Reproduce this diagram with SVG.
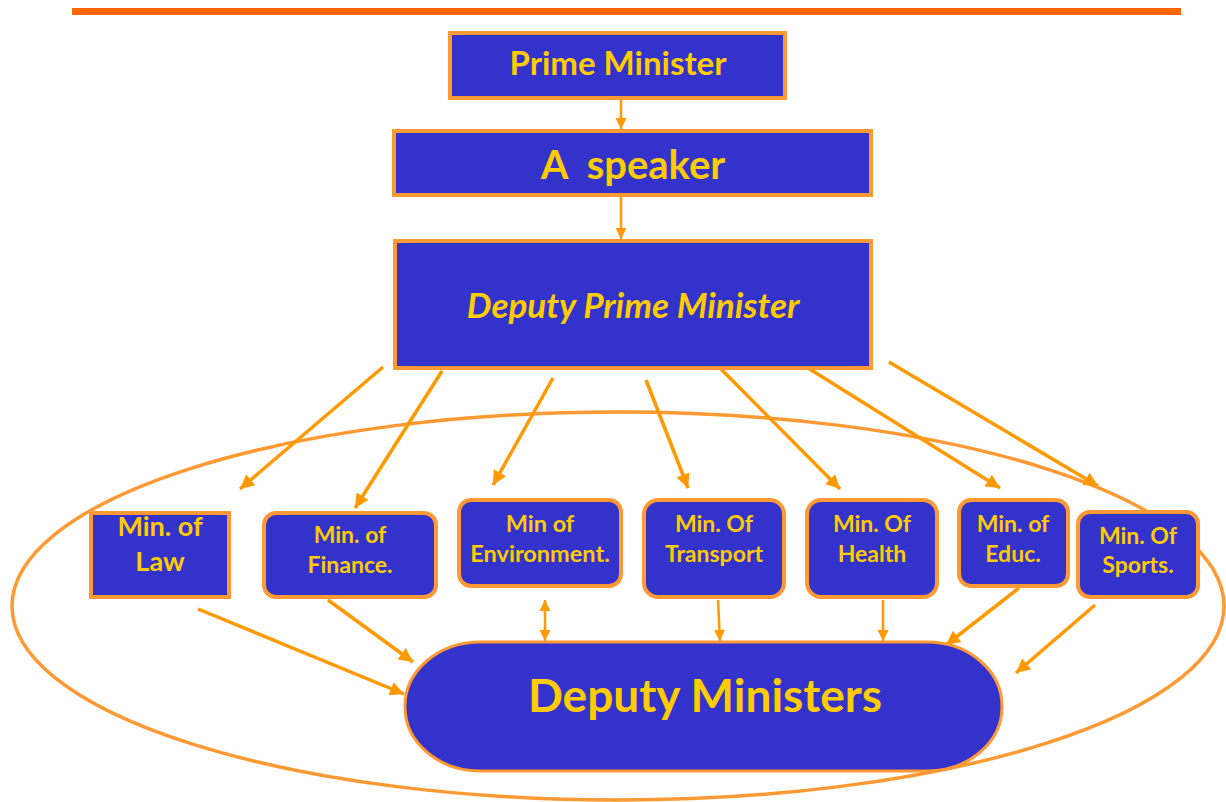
<svg xmlns="http://www.w3.org/2000/svg" width="1226" height="802" viewBox="0 0 1226 802">
<style>
.box{fill:#3333CC;stroke:#FF9933;stroke-width:4}
.t{font-family:Lato,"Liberation Sans",sans-serif;font-weight:bold;fill:#FFCC00;text-anchor:middle}
.c{stroke:#FF9900;stroke-width:3.5;fill:none}
.v{stroke:#FF9900;stroke-width:2.5;fill:none}
</style>
<defs>
<marker id="ah" viewBox="0 0 10 10" refX="10" refY="5" markerWidth="17" markerHeight="14" markerUnits="userSpaceOnUse" orient="auto-start-reverse">
<path d="M0,0 L10,5 L0,10 z" fill="#FF9900"/>
</marker>
<marker id="ahs" viewBox="0 0 10 10" refX="10" refY="5" markerWidth="14" markerHeight="11" markerUnits="userSpaceOnUse" orient="auto-start-reverse">
<path d="M0,0 L10,5 L0,10 z" fill="#FF9900"/>
</marker>
</defs>
<rect width="1226" height="802" fill="#FFFFFF"/>
<line x1="72" y1="11.5" x2="1181" y2="11.5" stroke="#FF6600" stroke-width="7"/>
<ellipse id="boundary" cx="618" cy="606" rx="606" ry="194" fill="none" stroke="#FF9933" stroke-width="3.5"/>
<g id="connectors">
<line class="v" x1="621" y1="100" x2="621" y2="129" marker-end="url(#ahs)"/>
<line class="v" x1="621" y1="197" x2="621" y2="239" marker-end="url(#ahs)"/>
<line class="c" x1="383" y1="367" x2="240" y2="489" marker-end="url(#ah)"/>
<line class="c" x1="442" y1="371" x2="355" y2="508" marker-end="url(#ah)"/>
<line class="c" x1="553" y1="378" x2="493" y2="485" marker-end="url(#ah)"/>
<line class="c" x1="646" y1="380" x2="688" y2="488" marker-end="url(#ah)"/>
<line class="c" x1="718" y1="366" x2="840" y2="489" marker-end="url(#ah)"/>
<line class="c" x1="808" y1="368" x2="1000" y2="488" marker-end="url(#ah)"/>
<line class="c" x1="889" y1="362" x2="1098" y2="486" marker-end="url(#ah)"/>
<line class="c" x1="198" y1="609" x2="404" y2="694" marker-end="url(#ah)"/>
<line class="c" x1="328" y1="600" x2="413" y2="662" marker-end="url(#ah)"/>
<line class="v" x1="545" y1="600" x2="545" y2="641" marker-start="url(#ahs)" marker-end="url(#ahs)"/>
<line class="v" x1="718" y1="600" x2="720" y2="641" marker-end="url(#ahs)"/>
<line class="v" x1="883" y1="600" x2="883" y2="641" marker-end="url(#ahs)"/>
<line class="c" x1="1019" y1="588" x2="946" y2="645" marker-end="url(#ah)"/>
<line class="c" x1="1095" y1="605" x2="1016" y2="673" marker-end="url(#ah)"/>
</g>
<g id="prime-minister">
<rect class="box" x="450" y="33" width="335" height="65"/>
<text class="t" x="618" y="75" font-size="33">Prime Minister</text>
</g>
<g id="speaker">
<rect class="box" x="394" y="131" width="477" height="64"/>
<text class="t" x="633" y="179" font-size="40" xml:space="preserve">A  speaker</text>
</g>
<g id="deputy-prime-minister">
<rect class="box" x="395" y="241" width="476" height="127"/>
<text class="t" x="633" y="318" font-size="35" font-style="italic">Deputy Prime Minister</text>
</g>
<g id="min-law">
<rect class="box" x="91" y="513" width="138" height="84"/>
<text class="t" x="160" y="536" font-size="27">Min. of</text>
<text class="t" x="160" y="571" font-size="27">Law</text>
</g>
<g id="min-finance">
<rect class="box" x="264" y="513" width="172" height="84" rx="12"/>
<text class="t" x="350" y="543" font-size="23">Min. of</text>
<text class="t" x="350" y="573" font-size="23">Finance.</text>
</g>
<g id="min-environment">
<rect class="box" x="459" y="500" width="162" height="86" rx="12"/>
<text class="t" x="540" y="532" font-size="23.5">Min of</text>
<text class="t" x="540" y="562" font-size="23.5">Environment.</text>
</g>
<g id="min-transport">
<rect class="box" x="644" y="500" width="140" height="97" rx="14"/>
<text class="t" x="714" y="532" font-size="23">Min. Of</text>
<text class="t" x="714" y="562" font-size="23">Transport</text>
</g>
<g id="min-health">
<rect class="box" x="807" y="500" width="130" height="97" rx="14"/>
<text class="t" x="872" y="532" font-size="23">Min. Of</text>
<text class="t" x="872" y="562" font-size="23">Health</text>
</g>
<g id="min-educ">
<rect class="box" x="959" y="500" width="109" height="86" rx="12"/>
<text class="t" x="1013" y="532" font-size="23">Min. of</text>
<text class="t" x="1013" y="562" font-size="23">Educ.</text>
</g>
<g id="min-sports">
<rect class="box" x="1078" y="512" width="120" height="85" rx="12"/>
<text class="t" x="1138" y="544" font-size="23">Min. Of</text>
<text class="t" x="1138" y="573" font-size="23">Sports.</text>
</g>
<g id="deputy-ministers">
<rect x="405" y="642" width="597" height="129" rx="75" ry="64" fill="#3333CC" stroke="#FF9933" stroke-width="3"/>
<text class="t" x="705" y="712" font-size="46">Deputy Ministers</text>
</g>
</svg>
